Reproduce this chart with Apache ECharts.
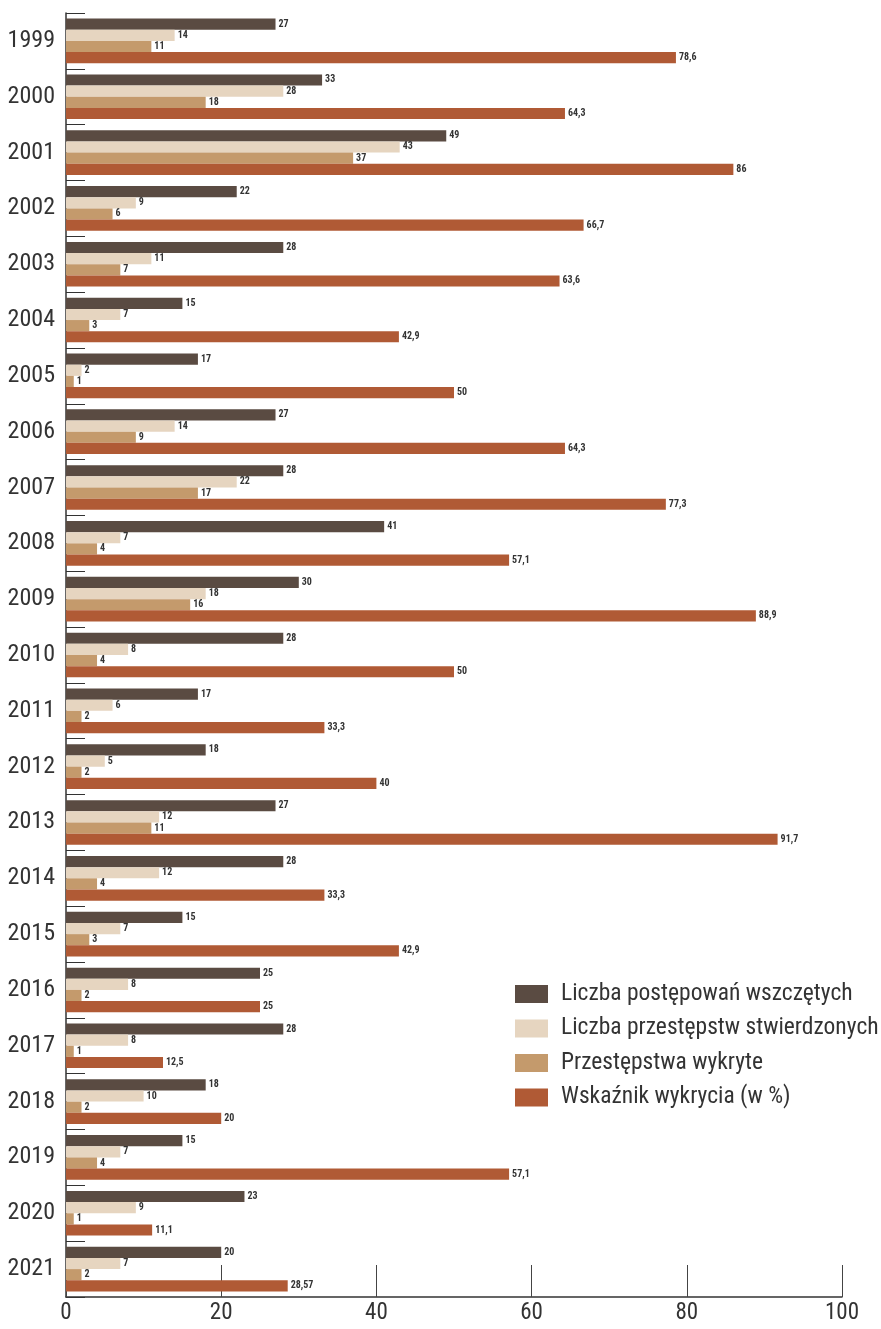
<!DOCTYPE html>
<html><head><meta charset="utf-8">
<script src="https://cdn.jsdelivr.net/npm/echarts@6/dist/echarts.min.js"></script>
<style>html,body{margin:0;padding:0;background:#fff}#c{width:881px;height:1329px}</style>
</head><body><div id="c"></div>
<script>
const years = ['1999','2000','2001','2002','2003','2004','2005','2006','2007','2008','2009','2010','2011','2012','2013','2014','2015','2016','2017','2018','2019','2020','2021'];
const postepowania = [27,33,49,22,28,15,17,27,28,41,30,28,17,18,27,28,15,25,28,18,15,23,20];
const stwierdzone = [14,28,43,9,11,7,2,14,22,7,18,8,6,5,12,12,7,8,8,10,7,9,7];
const wykryte = [11,18,37,6,7,3,1,9,17,4,16,4,2,2,11,4,3,2,1,2,4,1,2];
const wskaznik = [78.6,64.3,86,66.7,63.6,42.9,50,64.3,77.3,57.1,88.9,50,33.3,40,91.7,33.3,42.9,25,12.5,20,57.1,11.1,28.57];
const seriesNames = ['Liczba postępowań wszczętych','Liczba przestępstw stwierdzonych','Przestępstwa wykryte','Wskaźnik wykrycia (w %)'];
const colors = ['#5a4b42','#e6d5c0','#c49a6c','#b05a35'];
const FONT = '"Liberation Sans Narrow","Roboto Condensed","Open Sans",sans-serif';
const chart = echarts.init(document.getElementById('c'));
const mk = (name, data, i) => ({
  name, type:'bar', data, barGap:'0%', barCategoryGap:'20%',
  itemStyle:{color:colors[i]},
  label:{show:true, position:'right', distance:3, fontSize:10, fontWeight:'bold', color:'#333', fontFamily:FONT,
    formatter:p=>String(p.value).replace('.',',')}
});
chart.setOption({
  animation:false,
  color:colors,
  grid:{left:66,right:39,top:13,bottom:32},
  legend:{orient:'vertical',left:510,top:977,itemWidth:33,itemHeight:18,itemGap:10.5,
    icon:'rect',textStyle:{fontSize:23.5,padding:[0,0,0,8],color:'#333',fontFamily:FONT},data:seriesNames},
  xAxis:{type:'value',min:0,max:100,interval:20,splitLine:{show:false},
    axisLine:{show:true,lineStyle:{color:'#333',width:1.5}},
    axisTick:{show:true,inside:true,length:32,lineStyle:{color:'#444'}},
    axisLabel:{fontSize:23,color:'#333',fontFamily:FONT,margin:5}},
  yAxis:{type:'category',data:years,inverse:true,
    axisLine:{show:true,lineStyle:{color:'#333',width:1.5}},
    axisTick:{show:true,inside:true,length:19,interval:0,lineStyle:{color:'#333'}},
    axisLabel:{fontSize:24,color:'#333',fontFamily:FONT,margin:11}},
  series:[mk(seriesNames[0],postepowania,0),mk(seriesNames[1],stwierdzone,1),mk(seriesNames[2],wykryte,2),mk(seriesNames[3],wskaznik,3)]
});
</script></body></html>
